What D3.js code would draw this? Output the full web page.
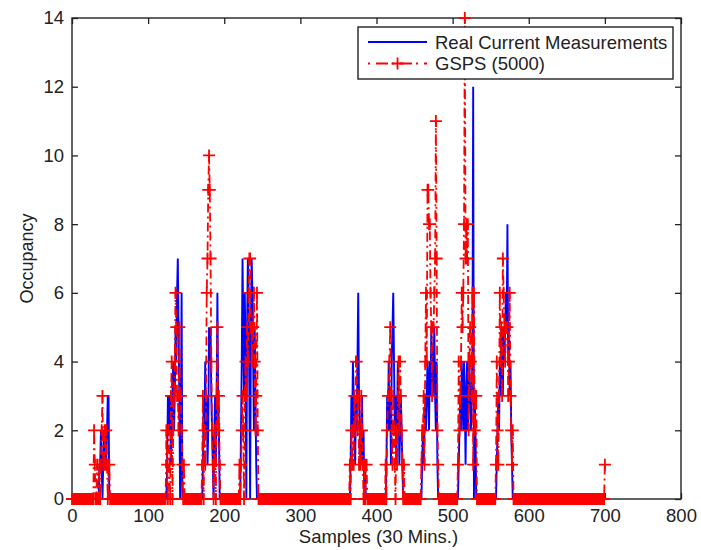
<!DOCTYPE html>
<html>
<head>
<meta charset="utf-8">
<script src="https://cdn.jsdelivr.net/npm/d3@7"></script>
<style>
  html, body { margin: 0; padding: 0; background: #ffffff; }
  svg { display: block; }
  text { font-family: "Liberation Sans", Arial, Helvetica, sans-serif; fill: #222; }
</style>
</head>
<body>
<svg id="chart" width="701" height="550"></svg>
<script>
// Occupancy per 30-minute sample (0..700). Samples outside the bursts below are 0.
const sampleCount = 701;

// first sample index of each active burst
const burstStarts = [28, 123, 170, 219, 364, 410, 457, 506, 556, 700];

// Real current measurements, one array per burst
const realA = [0,0,0,0,0,0,0,0,1,1,2,1,0,1,2,1,2,1,2,3,3,0,0];
const realB = [0,0,1,3,3,2,3,1,2,3,4,2,3,5,4,6,7,5,3,0,2,6,0,0,0,0];
const realC = [0,0,1,3,2,4,2,3,1,2,5,4,5,3,2,1,0,2,3,1,3,6,3,2,0,0];
const realD = [0,0,0,2,4,7,5,3,6,4,0,5,7,6,3,0,5,7,6,4,2,5,3,1,0,0,0,0];
const realE = [0,0,1,3,2,4,3,2,1,3,2,4,6,3,2,1,2,3,1,2,0,1,0,0,0];
const realF = [0,0,0,1,3,2,4,2,3,1,4,5,6,4,2,3,1,2,4,3,1,2,3,2,1,0,0,0];
const realG = [0,0,0,1,2,1,2,3,2,3,4,3,2,4,3,5,4,3,4,5,3,2,4,1,0,0];
const realH = [0,0,1,2,3,2,4,3,2,4,3,1,3,4,2,3,4,3,2,3,4,12,0,3,2,0,0];
const realI = [0,0,1,2,3,2,4,3,5,4,3,5,4,5,6,5,8,4,5,3,4,2,1,0,0];
const realJ = [0];

// GSPS (5000) estimates, one array per burst
const gspsA = [0,2,1,0,0,1,0,0,1,0,1,2,3,1,1,2,1,2,1,0,1,1,0];
const gspsB = [0,2,1,0,2,1,0,3,4,0,2,3,4,6,5,3,3,2,5,3,3,2,1,0,1,0];
const gspsC = [0,1,3,0,2,1,3,6,7,9,10,9,7,4,2,1,0,1,2,0,3,5,2,3,1,0];
const gspsD = [0,1,0,1,2,3,2,0,3,4,3,5,4,6,7,7,5,5,4,5,6,4,2,3,6,2,0,0];
const gspsE = [0,1,0,2,1,2,1,3,2,4,4,2,3,1,2,1,3,2,1,0,1,0,1,1,0];
const gspsF = [0,0,1,0,2,3,3,4,5,3,2,1,3,2,1,0,2,1,3,4,2,4,3,2,1,0,1,0];
const gspsG = [0,0,1,2,2,3,1,4,6,4,9,9,8,8,6,5,3,5,5,6,7,11,7,2,1,0];
const gspsH = [0,1,4,2,3,4,6,5,6,8,14,7,8,7,8,2,4,5,4,3,6,1,6,2,3,3,0];
const gspsI = [0,1,4,2,1,3,6,4,5,3,7,6,5,4,5,5,5,3,4,6,3,2,1,2,0];
const gspsJ = [1];

const xTicks = [0, 100, 200, 300, 400, 500, 600, 700, 800];
const yTicks = [0, 2, 4, 6, 8, 10, 12, 14];

const seriesNames = ["Real Current Measurements", "GSPS (5000)"];
const xTitle = "Samples (30 Mins.)";
const yTitle = "Occupancy";

// expand the bursts into full-length series
function assemble(bursts) {
  const out = new Array(sampleCount).fill(0);
  bursts.forEach((vals, k) => {
    vals.forEach((v, j) => { out[burstStarts[k] + j] = v; });
  });
  return out;
}
const realSeries = assemble([realA, realB, realC, realD, realE, realF, realG, realH, realI, realJ]);
const gspsSeries = assemble([gspsA, gspsB, gspsC, gspsD, gspsE, gspsF, gspsG, gspsH, gspsI, gspsJ]);

const svg = d3.select("#chart");
const plot = { left: 72, right: 681, top: 18, bottom: 499 };

const x = d3.scaleLinear().domain([0, 800]).range([plot.left, plot.right]);
const y = d3.scaleLinear().domain([0, 14]).range([plot.bottom, plot.top]);

const BLUE = "#0000ff";
const RED = "#ff0000";
const INK = "#222";

// data lines
const line = d3.line().x((d, i) => x(i)).y(d => y(d));

svg.append("path")
  .datum(realSeries)
  .attr("d", line)
  .attr("fill", "none")
  .attr("stroke", BLUE)
  .attr("stroke-width", 1.9);

svg.append("path")
  .datum(gspsSeries)
  .attr("d", line)
  .attr("fill", "none")
  .attr("stroke", RED)
  .attr("stroke-width", 1.8)
  .attr("stroke-dasharray", "9,4,2,4");

// '+' markers at every GSPS sample
const arm = 6;
const plus = svg.append("path")
  .attr("fill", "none")
  .attr("stroke", RED)
  .attr("stroke-width", 1.8)
  .attr("d", gspsSeries.map((v, i) => {
    const cx = x(i), cy = y(v);
    return `M${cx - arm},${cy}H${cx + arm}M${cx},${cy - arm}V${cy + arm}`;
  }).join(""));

// axes box with inward ticks on all four sides
const axes = svg.append("g");
axes.append("g")
  .attr("transform", `translate(0,${plot.bottom})`)
  .call(d3.axisBottom(x).tickValues(xTicks).tickSize(-6).tickPadding(10).tickFormat(d3.format("d")));
axes.append("g")
  .attr("transform", `translate(0,${plot.top})`)
  .call(d3.axisTop(x).tickValues(xTicks).tickSize(-6).tickFormat(""));
axes.append("g")
  .attr("transform", `translate(${plot.left},0)`)
  .call(d3.axisLeft(y).tickValues(yTicks).tickSize(-6).tickPadding(8).tickFormat(d3.format("d")));
axes.append("g")
  .attr("transform", `translate(${plot.right},0)`)
  .call(d3.axisRight(y).tickValues(yTicks).tickSize(-6).tickFormat(""));

axes.selectAll(".domain").remove();
axes.selectAll(".tick line").attr("stroke", INK).attr("stroke-width", 1.3);
axes.selectAll(".tick text")
  .attr("font-size", 18.5)
  .attr("fill", INK)
  .style("font-family", "'Liberation Sans', Arial, sans-serif");

axes.append("rect")
  .attr("x", plot.left).attr("y", plot.top)
  .attr("width", plot.right - plot.left).attr("height", plot.bottom - plot.top)
  .attr("fill", "none").attr("stroke", INK).attr("stroke-width", 1.4);

// the zero-level markers sit over the bottom edge, as plotted last
svg.node().appendChild(plus.node());

// axis titles
svg.append("text")
  .attr("x", (plot.left + plot.right) / 2 + 2)
  .attr("y", 543)
  .attr("text-anchor", "middle")
  .attr("font-size", 18.5)
  .text(xTitle);

svg.append("text")
  .attr("transform", `translate(33,${(plot.top + plot.bottom) / 2}) rotate(-90)`)
  .attr("text-anchor", "middle")
  .attr("font-size", 18)
  .text(yTitle);

// legend
const lg = svg.append("g");
lg.append("rect")
  .attr("x", 358).attr("y", 27).attr("width", 315).attr("height", 52)
  .attr("fill", "#fff").attr("stroke", INK).attr("stroke-width", 1.4);

lg.append("line")
  .attr("x1", 368).attr("x2", 427).attr("y1", 42).attr("y2", 42)
  .attr("stroke", BLUE).attr("stroke-width", 1.8);
lg.append("line")
  .attr("x1", 368).attr("x2", 427).attr("y1", 63.5).attr("y2", 63.5)
  .attr("stroke", RED).attr("stroke-width", 1.8)
  .attr("stroke-dasharray", "2,6,12,4");
lg.append("path")
  .attr("d", `M${397.5 - arm},63.5H${397.5 + arm}M397.5,${63.5 - arm}V${63.5 + arm}`)
  .attr("stroke", RED).attr("stroke-width", 1.8).attr("fill", "none");

lg.selectAll("text.lbl")
  .data(seriesNames)
  .join("text")
  .attr("class", "lbl")
  .attr("x", 435)
  .attr("y", (d, i) => 48.5 + i * 21.5)
  .attr("font-size", 18.5)
  .text(d => d);
</script>
</body>
</html>
